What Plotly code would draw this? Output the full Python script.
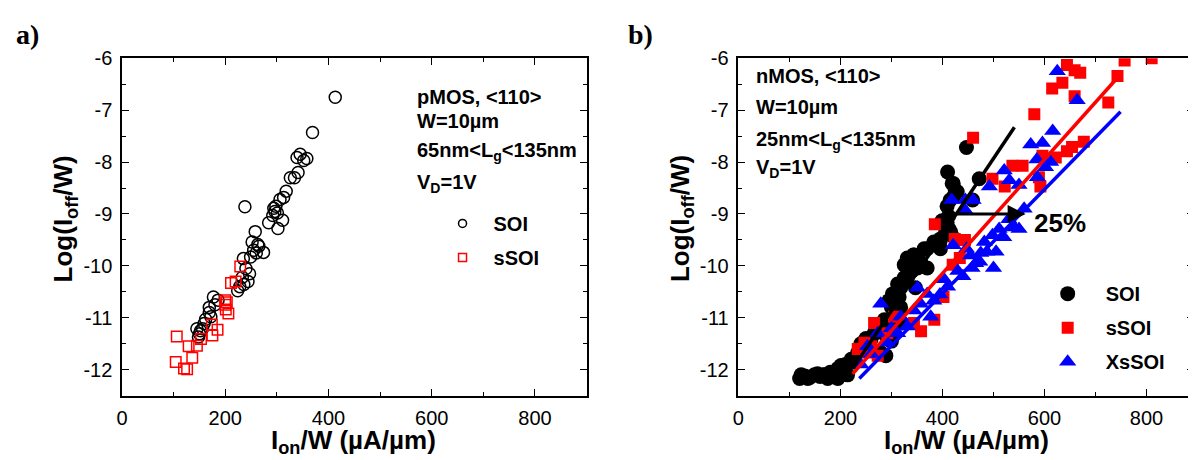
import plotly.graph_objects as go

# ---------- Panel a (pMOS) ----------
soi_a_x = [413, 369, 345, 339, 358, 352, 341, 326, 334, 318, 313, 298, 294, 238, 292, 301, 311, 284, 302, 258,
           252, 263, 274, 260, 249, 235, 247, 244, 236, 233, 224, 177, 180, 169, 169, 162, 159, 156, 145, 150,
           148, 186, 228, 240, 255, 265, 172, 152, 296, 306]
soi_a_y = [-6.75, -7.43, -7.85, -7.91, -7.93, -7.97, -8.20, -8.30, -8.30, -8.56, -8.68, -8.85, -8.89, -8.86, -9.03,
           -8.98, -9.12, -9.17, -9.28, -9.34, -9.54, -9.59, -9.74, -9.75, -9.83, -9.86, -10.15, -10.30, -10.36,
           -10.22, -10.48, -10.60, -10.75, -10.80, -10.90, -11.03, -11.11, -11.21, -11.21, -11.31, -11.37, -10.66,
           -10.40, -10.05, -9.70, -9.62, -10.98, -11.25, -8.95, -8.72]
ssoi_a_x = [229, 211, 220, 200, 203, 200, 201, 206, 174, 185, 175, 106, 153, 145, 129, 136, 104, 120, 126]
ssoi_a_y = [-10.01, -10.33, -10.30, -10.66, -10.70, -10.75, -10.84, -10.92, -11.13, -11.23, -11.34, -11.36,
            -11.41, -11.54, -11.55, -11.77, -11.85, -11.98, -11.99]

# ---------- Panel b (nMOS) ----------
soi_b_x = [120, 123, 136, 149, 166, 175, 188, 195, 195, 201, 214, 221, 234, 247, 260, 266, 279, 286, 292, 305,
           289, 279, 305, 295, 302, 318, 312, 325, 331, 325, 331, 344, 357, 370, 351, 370, 383, 396, 396, 406,
           409, 416, 412, 409, 422, 425, 419, 410, 447, 472, 421, 429, 415, 459, 399, 413, 418, 395, 364, 343,
           337, 331, 347, 318,
           130, 140, 155, 160, 170, 180, 200, 210, 225, 240, 250, 270, 340, 335, 360, 315, 300, 310, 320, 285, 300]
soi_b_y = [-12.17, -12.10, -12.17, -12.10, -12.10, -12.17, -12.14, -11.98, -12.17, -11.92, -12.10, -11.80, -11.67,
           -11.60, -11.42, -11.30, -11.17, -11.04, -11.10, -11.30, -11.73, -11.67, -10.92, -10.67, -10.54, -10.42,
           -10.35, -10.23, -10.04, -9.98, -9.85, -9.79, -9.92, -10.04, -10.04, -9.67, -9.54, -9.48, -9.67, -9.35,
           -9.16, -9.35, -9.04, -8.85, -8.66, -8.54, -8.41, -8.19, -7.72, -8.32, -8.41, -8.57, -8.73, -8.73,
           -9.13, -9.29, -9.41, -9.54, -9.67, -9.79, -9.98, -10.23, -10.42, -10.80,
           -12.12, -12.15, -12.08, -12.13, -12.10, -12.05, -12.00, -11.90, -11.85, -11.50, -11.40, -11.20,
           -10.10, -9.90, -10.00, -10.60, -10.80, -10.90, -11.10, -11.30, -11.45]
ssoi_b_x = [460, 385, 444, 420, 434, 402, 384, 358, 344, 266, 234, 253, 273, 305, 260, 292, 247, 615, 635, 644,
            659, 670, 659, 580, 725, 743, 757, 810, 677, 654, 644, 622, 596, 537, 557, 498, 522, 592, 589, 424]
ssoi_b_y = [-7.53, -9.20, -9.50, -9.98, -9.85, -10.60, -11.04, -11.26, -11.10, -11.10, -11.60, -11.67, -11.73,
            -10.98, -11.55, -11.30, -11.48, -6.58, -6.47, -6.13, -6.23, -6.28, -6.73, -7.08, -6.85, -6.34, -6.04,
            -6.00, -7.61, -7.71, -7.79, -7.91, -7.88, -8.07, -8.07, -8.32, -8.47, -8.47, -8.29, -9.48]
xssoi_b_x = [625, 664, 616, 573, 596, 521, 531, 492, 550, 586, 602, 460, 418, 443, 541, 550, 511, 498, 482, 505,
             473, 421, 447, 430, 445, 458, 500, 487, 403, 383, 351, 357, 377, 344, 318, 279, 312, 292, 273, 253,
             331, 370, 530, 560, 520, 475, 465, 440, 410, 395, 300, 260, 240, 585, 612, 455]
xssoi_b_y = [-6.25, -6.81, -7.40, -7.66, -7.63, -8.16, -8.35, -8.47, -8.44, -8.29, -8.10, -8.73, -8.73, -8.91,
             -9.26, -9.29, -9.29, -9.41, -9.54, -9.73, -9.92, -9.60, -9.67, -10.10, -8.73, -10.04, -10.04, -9.73,
             -10.26, -10.67, -10.42, -10.73, -10.98, -10.86, -10.98, -10.73, -11.30, -11.48, -11.30, -11.55,
             -11.17, -10.54, -9.10, -8.90, -9.45, -9.75, -9.95, -10.20, -10.40, -10.55, -11.20, -11.70, -11.90,
             -7.95, -8.00, -9.80]

# fit lines (end points)
fit_soi_x = [224, 541]
fit_soi_y = [-11.98, -7.33]
fit_ssoi_x = [224, 746]
fit_ssoi_y = [-12.08, -6.34]
fit_xssoi_x = [237, 749]
fit_xssoi_y = [-12.17, -7.03]

# arrow (25 %)
arrow_from_x, arrow_to_x, arrow_y = 421, 563, -9.0
label_25_x, label_25_y = 575, -9.17

# ticks
x_tickvals = [0, 200, 400, 600, 800]
x_ticktext = ["0", "200", "400", "600", "800"]
y_tickvals = [-6, -7, -8, -9, -10, -11, -12]
y_ticktext = ["-6", "-7", "-8", "-9", "-10", "-11", "-12"]

# The page body has an 8 px margin, so the figure is laid out in page px minus 8.
OFF = 8
W, H = 1196 - OFF, 460 - OFF
FONT = "Liberation Sans, Arial, sans-serif"
SERIF = "Liberation Serif, Times New Roman, serif"


def px(x):
    return (x - OFF) / W


def py(y):
    return 1 - (y - OFF) / H


fig = go.Figure()

# panel a
fig.add_trace(go.Scatter(x=soi_a_x, y=soi_a_y, mode="markers", xaxis="x", yaxis="y", showlegend=False,
                         marker=dict(symbol="circle-open", size=12, color="black", line=dict(width=1.5))))
fig.add_trace(go.Scatter(x=ssoi_a_x, y=ssoi_a_y, mode="markers", xaxis="x", yaxis="y", showlegend=False,
                         marker=dict(symbol="square-open", size=10.5, color="red", line=dict(width=1.5))))
# legend entries panel a (smaller symbols, as in the reference)
fig.add_trace(go.Scatter(x=[None], y=[None], mode="markers", name="SOI", xaxis="x", yaxis="y",
                         marker=dict(symbol="circle-open", size=8, color="black", line=dict(width=1.5)),
                         legend="legend", legendgroup="a1"))
fig.add_trace(go.Scatter(x=[None], y=[None], mode="markers", name="sSOI", xaxis="x", yaxis="y",
                         marker=dict(symbol="square-open", size=8, color="red", line=dict(width=1.5)),
                         legend="legend", legendgroup="a2"))

# panel b
fig.add_trace(go.Scatter(x=soi_b_x, y=soi_b_y, mode="markers", name="SOI", xaxis="x2", yaxis="y2",
                         marker=dict(symbol="circle", size=15, color="black"),
                         legend="legend2", legendgroup="b1"))
fig.add_trace(go.Scatter(x=ssoi_b_x, y=ssoi_b_y, mode="markers", name="sSOI", xaxis="x2", yaxis="y2",
                         marker=dict(symbol="square", size=12, color="#ff0000"),
                         legend="legend2", legendgroup="b2"))
fig.add_trace(go.Scatter(x=xssoi_b_x, y=xssoi_b_y, mode="markers", name="XsSOI", xaxis="x2", yaxis="y2",
                         marker=dict(symbol="triangle-up", size=15, color="#0000ff"),
                         legend="legend2", legendgroup="b3"))
for fx, fy, c in [(fit_soi_x, fit_soi_y, "black"), (fit_ssoi_x, fit_ssoi_y, "#ff0000"),
                  (fit_xssoi_x, fit_xssoi_y, "#0000ff")]:
    fig.add_trace(go.Scatter(x=fx, y=fy, mode="lines", xaxis="x2", yaxis="y2", showlegend=False,
                             line=dict(color=c, width=3.5)))


def xax(domain, rng, anchor):
    return dict(domain=domain, range=rng, anchor=anchor, tickmode="array", tickvals=x_tickvals,
                ticktext=x_ticktext, showgrid=False, zeroline=False,
                showline=True, linecolor="black", linewidth=1.5, mirror="ticks",
                ticks="inside", ticklen=7, tickwidth=1.3, tickcolor="black", ticklabelstandoff=4,
                minor=dict(tickmode="linear", tick0=0, dtick=100, ticks="inside", ticklen=4,
                           tickwidth=1.3, tickcolor="black"),
                tickfont=dict(size=20, color="black", family=FONT))


def yax(anchor):
    return dict(domain=[py(394), py(48.3)], range=[-12.5, -6], anchor=anchor, tickmode="array",
                tickvals=y_tickvals, ticktext=y_ticktext, showgrid=False, zeroline=False,
                showline=True, linecolor="black", linewidth=1.5, mirror="ticks",
                ticks="inside", ticklen=7, tickwidth=1.3, tickcolor="black", ticklabelstandoff=4,
                minor=dict(tickmode="linear", tick0=-6, dtick=0.5, ticks="inside", ticklen=4,
                           tickwidth=1.3, tickcolor="black"),
                tickfont=dict(size=20, color="black", family=FONT))


legend_font = dict(size=20, family=FONT, color="black", weight="bold")
fig.update_layout(
    width=W, height=H, margin=dict(l=0, r=0, t=0, b=0, pad=0), autosize=False,
    paper_bgcolor="white", plot_bgcolor="white",
    font=dict(family=FONT, color="black"),
    xaxis=xax([px(116.7), px(584)], [0, 900], "y"),
    yaxis=yax("x"),
    xaxis2=xax([px(736.7), px(1195)], [0, 893], "y2"),
    yaxis2=yax("x2"),
    legend=dict(x=px(428), y=py(197.5), xanchor="left", yanchor="top", bgcolor="rgba(0,0,0,0)",
                borderwidth=0, itemwidth=52, font=legend_font, tracegroupgap=5),
    legend2=dict(x=px(1029.7), y=py(269.5), xanchor="left", yanchor="top", bgcolor="rgba(0,0,0,0)",
                 borderwidth=0, itemwidth=66, font=legend_font, tracegroupgap=5),
)

ann = []
bold = dict(size=20, family=FONT, color="black", weight="bold")
# panel labels
for txt, lx in [("<b>a)</b>", 8), ("<b>b)</b>", 624)]:
    ann.append(dict(text=txt, x=px(lx), y=py(24), xref="paper", yref="paper", xanchor="left",
                    yanchor="middle", showarrow=False, font=dict(size=28, family=SERIF, color="black")))
# axis titles
for cx in (350, 966):
    ann.append(dict(text="I<sub>on</sub>/W (µA/µm)", x=px(cx), y=py(441), xref="paper", yref="paper",
                    xanchor="center", yanchor="middle", showarrow=False,
                    font=dict(size=26, family=FONT, color="black", weight="bold")))
for cx in (58.7, 679):
    ann.append(dict(text="Log(I<sub>off</sub>/W)", x=px(cx), y=py(213), xref="paper", yref="paper",
                    xanchor="center", yanchor="middle", showarrow=False, textangle=-90,
                    font=dict(size=26, family=FONT, color="black", weight="bold")))
# text blocks panel a
for txt, yy in [("pMOS, &lt;110&gt;", 88), ("W=10µm", 113), ("65nm&lt;L<sub>g</sub>&lt;135nm", 144),
                ("V<sub>D</sub>=1V", 177)]:
    ann.append(dict(text=txt, x=px(411), y=py(yy), xref="paper", yref="paper", xanchor="left",
                    yanchor="middle", showarrow=False, font=bold))
# text blocks panel b
for txt, yy in [("nMOS, &lt;110&gt;", 66.7), ("W=10µm", 98.3), ("25nm&lt;L<sub>g</sub>&lt;135nm", 133),
                ("V<sub>D</sub>=1V", 161.3)]:
    ann.append(dict(text=txt, x=px(752), y=py(yy), xref="paper", yref="paper", xanchor="left",
                    yanchor="middle", showarrow=False, font=bold))
# arrow + 25%
ann.append(dict(x=arrow_to_x, y=arrow_y, ax=arrow_from_x, ay=arrow_y, xref="x2", yref="y2", axref="x2",
                ayref="y2", text="", showarrow=True, arrowhead=2, arrowsize=1.2, arrowwidth=3,
                arrowcolor="black"))
ann.append(dict(text="25%", x=label_25_x, y=label_25_y, xref="x2", yref="y2", xanchor="left",
                yanchor="middle", showarrow=False,
                font=dict(size=26, family=FONT, color="black", weight="bold")))
fig.update_layout(annotations=ann)

fig.write_html("out.html")
